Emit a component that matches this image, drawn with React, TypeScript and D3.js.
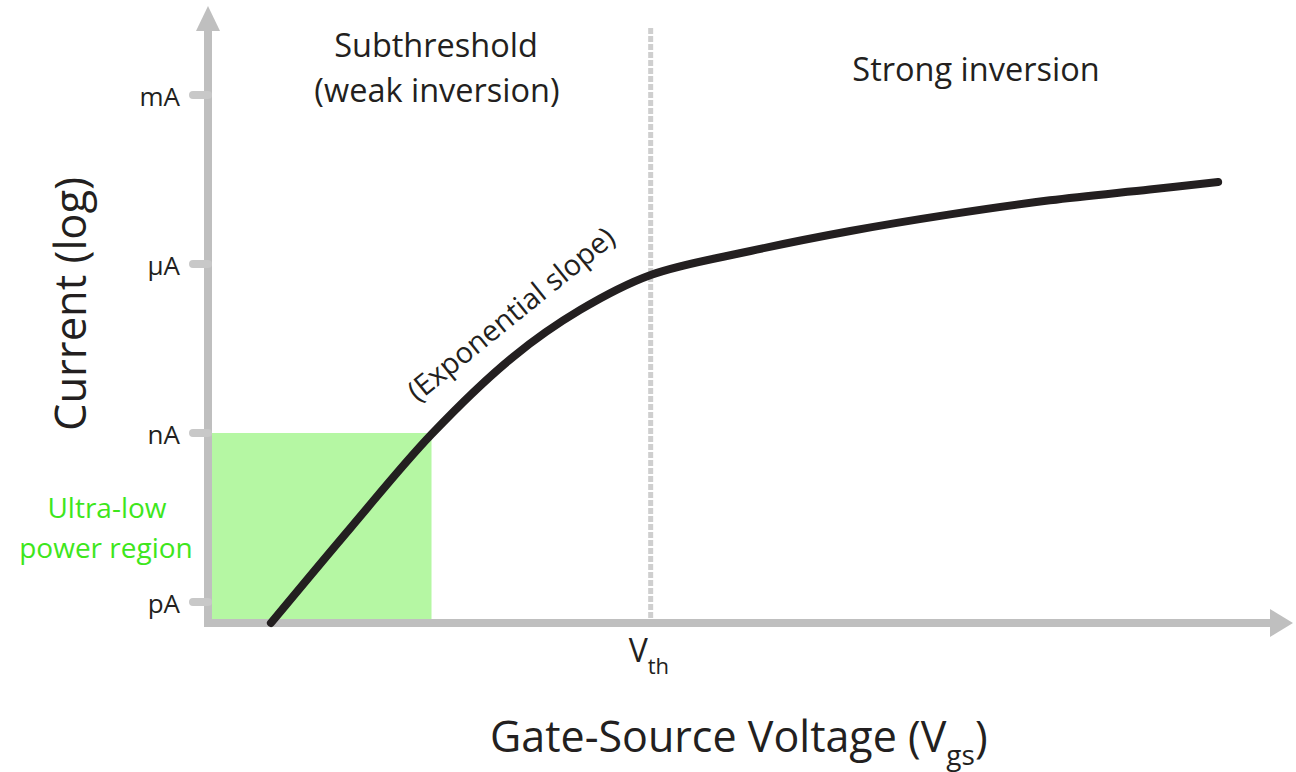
import React from "react";
import * as d3 from "d3";

// Gate-source voltage (normalized, 0..1 of axis length)
const vgs = [0.058, 0.132, 0.206, 0.281, 0.343, 0.408, 0.5, 0.592, 0.684, 0.776, 0.868, 0.931];
// Drain current (A, log scale)
const current = [4.24e-13, 2.14e-11, 9.5e-10, 2.23e-8, 1.53e-7, 6.38e-7, 1.7e-6, 3.85e-6, 7.6e-6, 1.35e-5, 2.1e-5, 2.86e-5];

const tickValues = [1e-12, 1e-9, 1e-6, 1e-3];
const tickLabels = ["pA", "nA", "μA", "mA"];
const vth = 0.408;
const ultraLowMaxV = 0.206;
const ultraLowMaxI = 1e-9;

const W = 1296;
const H = 772;
const FONT = "'Open Sans', 'Noto Sans', sans-serif";
const AXIS = "#bfbfbf";
const INK = "#231f20";

export default function App() {
  const x = d3.scaleLinear().domain([0, 1]).range([208, 1293]);
  const y = d3.scaleLog().domain([1e-12, 1e-3]).range([602, 95]);
  const axisY = 623;
  const axisX = x(0);

  const pts: [number, number][] = vgs.map((v, i) => [v, current[i]]);
  const line = d3
    .line<[number, number]>()
    .x((d) => x(d[0]))
    .y((d) => y(d[1]))
    .curve(d3.curveCatmullRom.alpha(0.5));

  const rectX0 = x(0);
  const rectX1 = x(ultraLowMaxV);
  const rectY0 = y(ultraLowMaxI);

  return (
    <svg
      width={W}
      height={H}
      style={{ position: "fixed", left: 0, top: 0, background: "#fff" }}
      fontFamily={FONT}
    >
      {/* ultra-low power region */}
      <rect x={rectX0} y={rectY0} width={rectX1 - rectX0} height={axisY - rectY0} fill="#b5f7a3" />

      {/* Vth dashed line */}
      <line x1={x(vth)} x2={x(vth)} y1={28} y2={axisY - 3} stroke="#cfcfcf" strokeWidth={5} strokeDasharray="6 2" />

      {/* y axis */}
      <line x1={axisX} x2={axisX} y1={axisY + 4} y2={26} stroke={AXIS} strokeWidth={8} />
      <path d={`M${axisX},6 L${axisX - 12},31 L${axisX + 12},31 Z`} fill={AXIS} />
      {/* x axis */}
      <line x1={axisX - 4} x2={1272} y1={axisY} y2={axisY} stroke={AXIS} strokeWidth={8} />
      <path d={`M1293,${axisY} L1270,${axisY - 14} L1270,${axisY + 14} Z`} fill={AXIS} />

      {/* ticks */}
      {tickValues.map((t, i) => (
        <g key={i}>
          <line x1={193} x2={axisX} y1={y(t)} y2={y(t)} stroke="#c8c8c8" strokeWidth={8} strokeLinecap="round" />
          <text x={180} y={y(t) + 11} textAnchor="end" fontSize={26} fill={INK}>
            {tickLabels[i]}
          </text>
        </g>
      ))}

      {/* curve */}
      <path d={line(pts) || ""} fill="none" stroke={INK} strokeWidth={8} strokeLinecap="round" />

      {/* region labels */}
      <text x={436} y={57} textAnchor="middle" fontSize={32.5} fill={INK}>Subthreshold</text>
      <text x={437} y={102} textAnchor="middle" fontSize={32.5} fill={INK}>(weak inversion)</text>
      <text x={976} y={81} textAnchor="middle" fontSize={32.5} fill={INK}>Strong inversion</text>

      <text
        transform={`translate(511,314) rotate(-39)`}
        textAnchor="middle"
        dy="0.35em"
        fontSize={29}
        fill={INK}
      >
        (Exponential slope)
      </text>

      {/* ultra-low label */}
      <text x={107} y={518} textAnchor="middle" fontSize={28} fill="#3ee61c">Ultra-low</text>
      <text x={106} y={558} textAnchor="middle" fontSize={28} fill="#3ee61c">power region</text>

      {/* Vth label */}
      <text x={x(vth) - 22} y={662} fontSize={32} fill={INK}>
        V<tspan fontSize={22} dy={12}>th</tspan>
      </text>

      {/* axis titles */}
      <text transform="translate(86,304) rotate(-90)" textAnchor="middle" fontSize={43.5} fill={INK}>
        Current (log)
      </text>
      <text x={490} y={752} fontSize={43} fill={INK}>
        Gate-Source Voltage (V<tspan fontSize={28} dy={13}>gs</tspan>
        <tspan dy={-13}>)</tspan>
      </text>
    </svg>
  );
}
